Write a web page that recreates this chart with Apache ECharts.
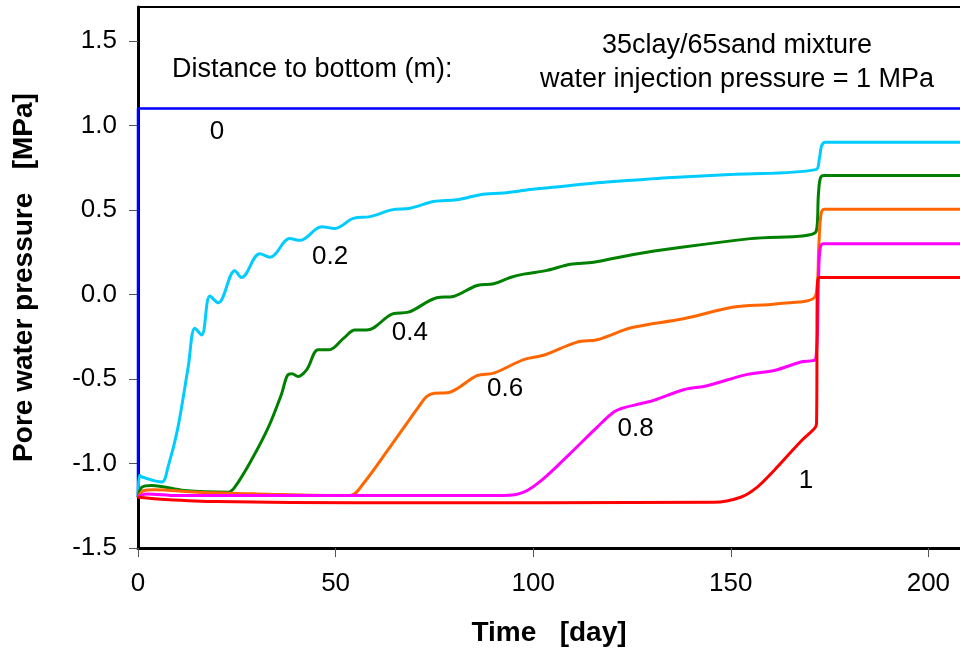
<!DOCTYPE html>
<html>
<head>
<meta charset="utf-8">
<script src="https://cdn.jsdelivr.net/npm/echarts@6/dist/echarts.min.js"></script>
<style>
  html, body { margin: 0; padding: 0; background: #fff; }
  #chart { width: 960px; height: 654px; }
</style>
</head>
<body>
<div id="chart"></div>
<script>
// pore pressure curves, [day, MPa]
const d00 = [[0, -1.2], [0, 1.1], [208, 1.1]];
const d02 = [[0, -1.2], [0.4, -1.07], [1, -1.08], [6, -1.11], [7.6, -1.02], [10, -0.8], [12.7, -0.43],
  [14.4, -0.2], [16.1, -0.24], [18.2, -0.01], [20.3, -0.05], [24.5, 0.14], [26.2, 0.1], [30.8, 0.24],
  [33.4, 0.22], [38.4, 0.33], [41, 0.32], [46.5, 0.4], [49.8, 0.39], [54.5, 0.45], [58.7, 0.46],
  [64.2, 0.5], [68.9, 0.51], [74.8, 0.55], [80.7, 0.56], [86.6, 0.59], [92.5, 0.6], [99.3, 0.62],
  [107.7, 0.64], [116.2, 0.66], [125, 0.675], [134, 0.69], [151, 0.71], [171.5, 0.738],
  [172.4, 0.8], [173, 0.88], [174, 0.9], [208, 0.9]];
const d04 = [[0, -1.2], [1, -1.14], [3.4, -1.13], [11.8, -1.16], [22.8, -1.17], [24.5, -1.14],
  [28.7, -0.98], [33, -0.785], [36.3, -0.59], [37.8, -0.48], [39, -0.47], [40.5, -0.485], [42.7, -0.445],
  [45.6, -0.327], [48.4, -0.327], [52, -0.26], [54.9, -0.21], [57.9, -0.21], [64.6, -0.114],
  [68.4, -0.105], [75.6, -0.02], [79.8, -0.012], [85.8, 0.053], [90, 0.063], [94.2, 0.1],
  [97.6, 0.12], [103.5, 0.142], [109.4, 0.178], [115.3, 0.19], [125, 0.235], [138, 0.28],
  [155, 0.33], [171.5, 0.369], [172.2, 0.6], [172.7, 0.69], [173.6, 0.704], [208, 0.704]];
const d06 = [[0, -1.2], [1.5, -1.16], [4, -1.155], [15, -1.17], [30, -1.18], [53.6, -1.19],
  [57, -1.12], [65.5, -0.845], [71, -0.665], [73, -0.605], [75, -0.585], [78.2, -0.582], [80.7, -0.558],
  [85.8, -0.48], [90, -0.466], [97.6, -0.386], [102.6, -0.36], [111.1, -0.282], [116.2, -0.268],
  [125, -0.196], [138, -0.144], [150.8, -0.075], [161.8, -0.055], [171.5, -0.006],
  [172.3, 0.3], [172.8, 0.47], [173.6, 0.503], [208, 0.503]];
const d08 = [[0, -1.2], [2, -1.18], [10, -1.19], [92.5, -1.19], [97.6, -1.17], [102.6, -1.09],
  [109.4, -0.94], [116.2, -0.785], [120.4, -0.696], [123, -0.67], [127.1, -0.647], [130.5, -0.627],
  [138.1, -0.564], [144, -0.54], [154.2, -0.473], [161, -0.45], [167.7, -0.4], [171.5, -0.38],
  [172.2, 0.1], [172.6, 0.27], [173.4, 0.3], [208, 0.3]];
const d10 = [[0, -1.2], [5, -1.21], [20, -1.225], [60, -1.232], [145.7, -1.23], [152.5, -1.2],
  [156.7, -1.14], [161, -1.04], [167.7, -0.87], [171.1, -0.795], [171.7, -0.765],
  [171.9, 0.05], [172.3, 0.1], [208, 0.1]];

const seriesNames = ['0', '0.2', '0.4', '0.6', '0.8', '1'];
const seriesData = [d00, d02, d04, d06, d08, d10];
const seriesColors = ['#0000ff', '#00ccff', '#008000', '#ff6600', '#ff00ff', '#ff0000'];

// where each curve's name is written
const labelX = [20, 48.6, 68.8, 92.9, 125.9, 169];
const labelY = [0.96, 0.225, -0.23, -0.556, -0.793, -1.1];

const xTicks = [0, 50, 100, 150, 200];
const yTicks = [-1.5, -1.0, -0.5, 0.0, 0.5, 1.0, 1.5];

const font = 'Liberation Sans, Arial, sans-serif';

const chart = echarts.init(document.getElementById('chart'));

const lines = seriesData.map((d, i) => ({
  name: seriesNames[i],
  type: 'line',
  data: d,
  showSymbol: false,
  smooth: i === 0 ? false : 0.35,
  lineStyle: { color: seriesColors[i], width: i === 0 ? 2.5 : 3 },
  itemStyle: { color: seriesColors[i] },
  silent: true,
  z: 2 + i
}));

const option = {
  animation: false,
  backgroundColor: '#fff',
  grid: { left: 138, right: 0, top: 7, bottom: 106 },
  xAxis: [
    {
      type: 'value', min: 0, max: 208, interval: 50,
      name: 'Time   [day]', nameLocation: 'middle', nameGap: 71,
      nameTextStyle: { fontFamily: font, fontSize: 28, fontWeight: 'bold', color: '#000' },
      axisLine: { onZero: false, lineStyle: { color: '#000', width: 3 } },
      axisTick: { inside: false, length: 9, customValues: xTicks, lineStyle: { color: '#555', width: 1 } },
      axisLabel: {
        margin: 23, fontFamily: font, fontSize: 26, color: '#000', customValues: xTicks,
        formatter: v => (xTicks.indexOf(v) >= 0 ? String(v) : '')
      },
      splitLine: { show: false }
    },
    {
      // top border
      type: 'value', position: 'top', min: 0, max: 208,
      axisLine: { show: true, onZero: false, lineStyle: { color: '#000', width: 2 } },
      axisTick: { show: false }, axisLabel: { show: false }, splitLine: { show: false }
    }
  ],
  yAxis: {
    type: 'value', min: -1.5, max: 1.7, interval: 0.5,
    name: 'Pore water pressure   [MPa]', nameLocation: 'middle', nameGap: 100,
    nameTextStyle: { fontFamily: font, fontSize: 28, fontWeight: 'bold', color: '#000' },
    axisLine: { show: true, onZero: false, lineStyle: { color: '#000', width: 3 } },
    axisTick: { inside: false, length: 9, customValues: yTicks, lineStyle: { color: '#555', width: 1 } },
    axisLabel: {
      margin: 21, fontFamily: font, fontSize: 26, color: '#000', customValues: yTicks,
      formatter: v => {
        const hit = yTicks.find(t => Math.abs(t - v) < 1e-6);
        return hit === undefined ? '' : hit.toFixed(1);
      }
    },
    splitLine: { show: false }
  },
  graphic: [
    { type: 'text', left: 172, top: 56,
      style: { text: 'Distance to bottom (m):', font: '27px ' + font, fill: '#000' } },
    { type: 'text', x: 737, y: 46,
      style: { text: '35clay/65sand mixture', font: '27px ' + font, fill: '#000',
        align: 'center', verticalAlign: 'middle' } },
    { type: 'text', x: 737, y: 80,
      style: { text: 'water injection pressure = 1 MPa', font: '27px ' + font, fill: '#000',
        align: 'center', verticalAlign: 'middle' } }
  ],
  series: lines.concat([{
    type: 'scatter',
    data: labelX.map((x, i) => ({ value: [x, labelY[i]], name: seriesNames[i] })),
    symbolSize: 1,
    itemStyle: { color: 'rgba(0,0,0,0)', opacity: 1 },
    label: {
      show: true, position: 'inside', formatter: p => p.name,
      fontFamily: font, fontSize: 26, color: '#000', textBorderWidth: 0
    },
    silent: true,
    z: 10
  }])
};

chart.setOption(option);
</script>
</body>
</html>
